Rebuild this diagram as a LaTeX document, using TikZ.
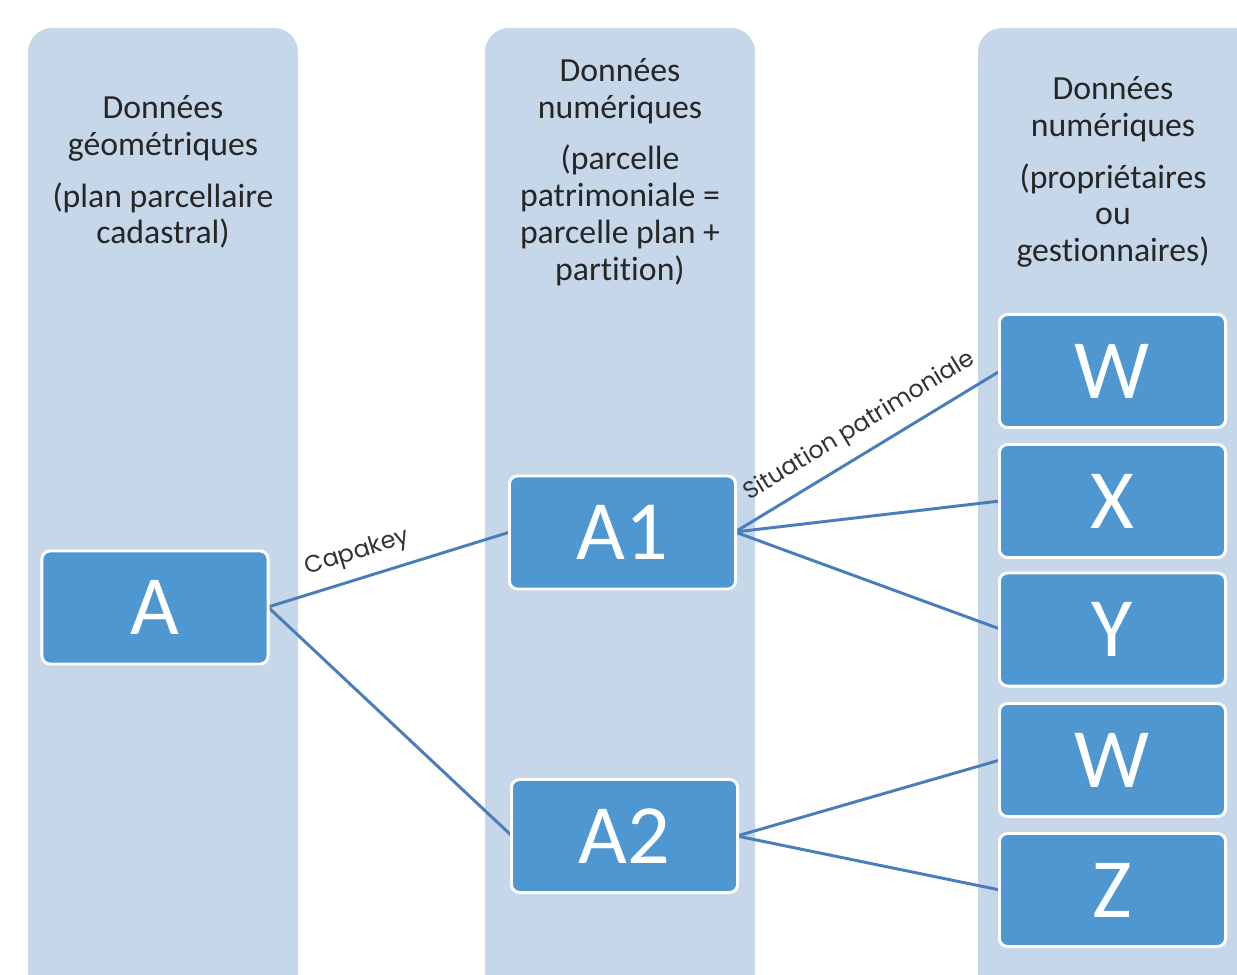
\documentclass[tikz,border=0pt]{standalone}
\usepackage{fontspec}
\setmainfont{Carlito}[Ligatures=NoCommon]
\newfontfamily\handfont{Poppins}
\usepackage{tikz}
\usetikzlibrary{positioning}

\definecolor{colfill}{HTML}{C5D7E9}
\definecolor{boxfill}{HTML}{4F97D0}
\definecolor{linkcol}{HTML}{4A7EBB}

\begin{document}
\begin{tikzpicture}[x = 0.025cm, y = -0.025cm,
		column/.style = {fill = colfill, rounded corners = 0.6cm},
		head/.style = {align = center, text = black!85, font = \fontsize{24}{26.2}\selectfont},
		item/.style = {draw = white, line width = 2.1pt, fill = boxfill, rounded corners = 0.2cm,
			minimum width = 5.65cm, minimum height = 2.825cm, inner sep = 0pt,
			text = white, font = \fontsize{60}{60}\selectfont},
		link/.style = {draw = linkcol, line width = 2.1pt},
		tag/.style = {sloped, text = black!80, font = \handfont\fontsize{17}{17}\selectfont}]
	\useasboundingbox (0,0) rectangle (1237,974);

	% the three columns
	\begin{scope}
		\clip (0,0) rectangle (1237,974);
		\fill [column] (28,28) rectangle (298,1010);
		\fill [column] (485,28) rectangle (755,1010);
		\fill [column] (978,28) rectangle (1270,1010);
	\end{scope}

	\node [head] (geo) at (163,172) {Données\\géométriques\\[10.6pt](plan parcellaire\\cadastral)};
	\node [head] (parc) at (620,172) {Données\\numériques\\[10.6pt](parcelle\\patrimoniale =\\parcelle plan +\\partition)};
	\node [head] (prop) at (1113,172) {Données\\numériques\\[10.6pt](propriétaires\\ou\\gestionnaires)};

	% links
	\coordinate (Ae) at (268,607);
	\coordinate (A1w) at (510,532);
	\coordinate (A2w) at (512,836);
	\coordinate (A1e) at (735,532);
	\coordinate (A2e) at (737,836);

	\draw [link] (Ae) -- node [tag, pos = 0.4, above = 5pt] {Capakey} (A1w);
	\draw [link] (Ae) -- (A2w);
	\draw [link] (A1e) -- node [tag, pos = 0.52, above = 5pt] {Situation patrimoniale} (1000,371);
	\draw [link] (A1e) -- (1000,501);
	\draw [link] (A1e) -- (1000,629);
	\draw [link] (A2e) -- (1000,760);
	\draw [link] (A2e) -- (1000,890);

	% boxes
	\node [item] (A) at (155,607.5) {A};
	\node [item] (A1) at (622.5,532.5) {A1};
	\node [item] (A2) at (624.5,836) {A2};
	\node [item] (W) at (1112.5,371) {W};
	\node [item] (X) at (1112.5,501) {X};
	\node [item] (Y) at (1112.5,629.5) {Y};
	\node [item] (W2) at (1112.5,760) {W};
	\node [item] (Z) at (1112.5,890) {Z};
\end{tikzpicture}
\end{document}
